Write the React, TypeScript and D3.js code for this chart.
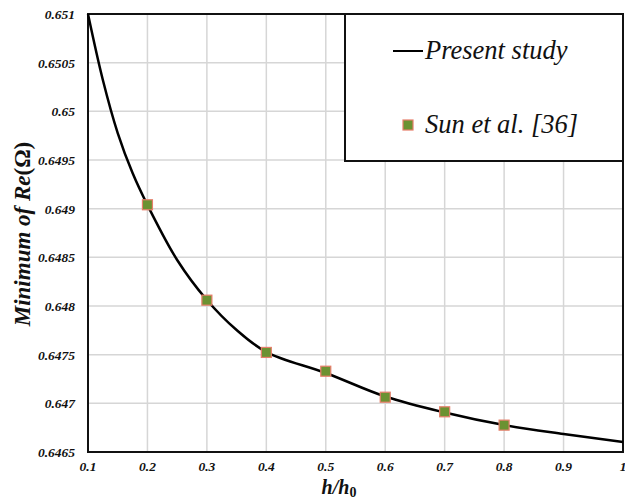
import React from "react";
import * as d3 from "d3";

const lineH = [0.1, 0.125, 0.15, 0.175, 0.2, 0.25, 0.3, 0.35, 0.4, 0.5, 0.6, 0.7, 0.8, 0.9, 1.0];
const lineRe = [0.651, 0.650322, 0.649777, 0.649366, 0.649038, 0.648473, 0.648062, 0.647753, 0.647527, 0.647312, 0.64707, 0.646906, 0.646777, 0.646685, 0.646603];

const sunH = [0.2, 0.3, 0.4, 0.5, 0.6, 0.7, 0.8];
const sunRe = [0.64904, 0.64806, 0.647523, 0.64733, 0.647063, 0.646913, 0.646776];

const xTicks = [0.1, 0.2, 0.3, 0.4, 0.5, 0.6, 0.7, 0.8, 0.9, 1];
const yTicks = [0.6465, 0.647, 0.6475, 0.648, 0.6485, 0.649, 0.6495, 0.65, 0.6505, 0.651];

const W = 625;
const H = 499;
const L = 88, R = 623, T = 14, B = 452;

const serif = "'Liberation Serif', 'Times New Roman', serif";
const tickStyle: React.CSSProperties = { fontFamily: serif, fontWeight: "bold", fontStyle: "italic", fontSize: 13.5 };
const legStyle: React.CSSProperties = { fontFamily: serif, fontStyle: "italic", fontSize: 26.5 };
const titleStyle: React.CSSProperties = { fontFamily: serif, fontWeight: "bold", fontStyle: "italic", fontSize: 23 };

export default function App() {
  const x = d3.scaleLinear().domain([0.1, 1]).range([L, R]);
  const y = d3.scaleLinear().domain([0.6465, 0.651]).range([B, T]);
  const line = d3
    .line<number>()
    .x((_, i) => x(lineH[i]))
    .y((d) => y(d))
    .curve(d3.curveCatmullRom.alpha(0.5));
  const ms = 10;
  return (
    <svg width={W} height={H} style={{ position: "absolute", left: 0, top: 0, background: "#fff" }}>
      <rect x={0} y={0} width={W} height={H} fill="#fff" />
      {xTicks.map((t) => (
        <line key={"gx" + t} x1={x(t)} x2={x(t)} y1={T} y2={B} stroke="#d6d6d6" strokeWidth={1.5} />
      ))}
      {yTicks.map((t) => (
        <line key={"gy" + t} x1={L} x2={R} y1={y(t)} y2={y(t)} stroke="#d6d6d6" strokeWidth={1.5} />
      ))}
      <rect x={L} y={T} width={R - L} height={B - T} fill="none" stroke="#111" strokeWidth={2} />
      {yTicks.map((t) => (
        <text key={"ty" + t} x={75} y={y(t) + 5} textAnchor="end" style={tickStyle} fill="#111">
          {String(t)}
        </text>
      ))}
      {xTicks.map((t) => (
        <text key={"tx" + t} x={x(t)} y={471} textAnchor="middle" style={tickStyle} fill="#111">
          {String(t)}
        </text>
      ))}
      <path d={line(lineRe) || ""} fill="none" stroke="#000" strokeWidth={2.5} />
      {sunRe.map((v, i) => (
        <rect key={"m" + i} x={x(sunH[i]) - ms / 2} y={y(v) - ms / 2} width={ms} height={ms} fill="#6b9232" stroke="#e67e6a" strokeWidth={1.2} />
      ))}
      <rect x={345} y={T} width={R - 345} height={161 - T} fill="#fff" stroke="#111" strokeWidth={2} />
      <line x1={393} x2={423} y1={51} y2={51} stroke="#000" strokeWidth={2} />
      <text x={425} y={59} style={legStyle} fill="#111">Present study</text>
      <rect x={408 - 5} y={125 - 5} width={10} height={10} fill="#6b9232" stroke="#e67e6a" strokeWidth={1.2} />
      <text x={425} y={133} style={legStyle} fill="#111">Sun et al. [36]</text>
      <text x={339} y={494} textAnchor="middle" style={{ ...titleStyle, fontSize: 20 }} fill="#111">
        h/h<tspan style={{ fontStyle: "normal", fontSize: 14 }} dy={3}>0</tspan>
      </text>
      <text transform="translate(30,234) rotate(-90)" textAnchor="middle" style={titleStyle} fill="#111">
        Minimum of Re<tspan style={{ fontStyle: "normal" }}>(Ω)</tspan>
      </text>
    </svg>
  );
}
